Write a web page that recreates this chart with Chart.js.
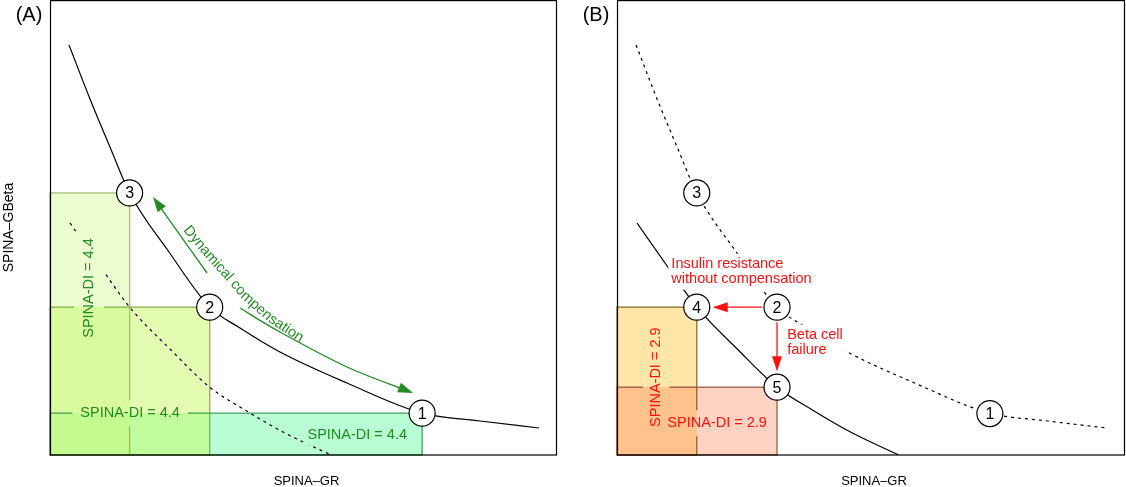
<!DOCTYPE html>
<html>
<head>
<meta charset="utf-8">
<script src="https://cdn.jsdelivr.net/npm/chart.js@4.4.0/dist/chart.umd.min.js"></script>
<style>
  html, body { margin: 0; padding: 0; background: #fff; }
  #wrap { position: relative; width: 1126px; height: 487px; }
  canvas { position: absolute; top: 0; }
  #chartA { left: 0; }
  #chartB { left: 567px; }
</style>
</head>
<body>
<div id="wrap">
  <canvas id="chartA" width="567" height="487"></canvas>
  <canvas id="chartB" width="559" height="487"></canvas>
</div>
<script>
const FONT = '"Liberation Sans", Arial, Helvetica, sans-serif';

// isoline through points 3-2-1 (solid in A, dashed in B)
const upperX = [0.375, 0.789, 1.183, 1.57, 2.347, 3.15, 3.748, 4.536, 5.858, 7.34, 8.481, 9.645];
const upperY = [9.011, 7.824, 6.769, 5.76, 4.462, 3.25, 2.791, 2.264, 1.582, 0.92, 0.747, 0.593];
// lower isoline through 4-5 (dashed in A, solid in B)
const lowerX = [0.394, 0.986, 1.57, 2.367, 3.15, 3.846, 4.596, 5.542];
const lowerY = [5.099, 4.154, 3.25, 2.330, 1.49, 0.989, 0.505, 0.0];

// numbered states
const ptAX = [1.57, 3.15, 7.34];
const ptAY = [5.76, 3.25, 0.92];
const ptALabels = ['3', '2', '1'];
const ptBX = [1.57, 3.15, 7.34, 1.57, 3.15];
const ptBY = [5.76, 3.25, 0.91, 3.25, 1.49];
const ptBLabels = ['3', '2', '1', '4', '5'];

// curved arrow "Dynamical compensation" (two pieces, tip at the end of each)
const compArrow1X = [3.097, 2.564, 2.032];
const compArrow1Y = [4.000, 4.835, 5.670];
const compArrow2X = [3.748, 4.536, 5.858, 7.160];
const compArrow2Y = [3.231, 2.703, 1.934, 1.363];
const compTextX = [2.643, 3.097, 3.491, 3.846, 4.339, 5.030];
const compTextY = [5.055, 4.440, 3.956, 3.495, 3.011, 2.505];

const zip = (xs, ys) => xs.map((x, i) => ({ x: x, y: ys[i] }));

function toPx(chart, x, y) {
  return [chart.scales.x.getPixelForValue(x), chart.scales.y.getPixelForValue(y)];
}

function spline(ctx, p) {
  ctx.moveTo(p[0][0], p[0][1]);
  for (let i = 0; i < p.length - 1; i++) {
    const p0 = p[i - 1] || p[i], p1 = p[i], p2 = p[i + 1], p3 = p[i + 2] || p2;
    ctx.bezierCurveTo(p1[0] + (p2[0] - p0[0]) / 6, p1[1] + (p2[1] - p0[1]) / 6,
                      p2[0] - (p3[0] - p1[0]) / 6, p2[1] - (p3[1] - p1[1]) / 6, p2[0], p2[1]);
  }
}

function arrow(ctx, p, color) {
  const n = p.length, tip = p[n - 1], prev = p[n - 2];
  const a = Math.atan2(tip[1] - prev[1], tip[0] - prev[0]);
  const L = 15, H = 5;
  const c = Math.cos(a), s = Math.sin(a);
  const line = p.slice(0, -1).concat([[tip[0] - L * 0.8 * c, tip[1] - L * 0.8 * s]]);
  ctx.strokeStyle = color;
  ctx.lineWidth = 1.3;
  ctx.setLineDash([]);
  ctx.beginPath(); spline(ctx, line); ctx.stroke();
  ctx.fillStyle = color;
  ctx.beginPath();
  ctx.moveTo(tip[0], tip[1]);
  ctx.lineTo(tip[0] - L * c + H * s, tip[1] - L * s - H * c);
  ctx.lineTo(tip[0] - L * c - H * s, tip[1] - L * s + H * c);
  ctx.closePath(); ctx.fill();
}

function labelBoxes(chart) {
  const ctx = chart.ctx;
  const o = chart.config.options.plugins.sketch;
  return o.labels.map(l => {
    ctx.font = l.size + 'px ' + FONT;
    const w = Math.max(...l.lines.map(t => ctx.measureText(t).width));
    const h = l.lines.length * l.lineH;
    const [cx, cy] = toPx(chart, l.x, l.y);
    const x0 = l.align === 'left' ? -l.padX : -w / 2 - l.padX;
    return { l: l, cx: cx, cy: cy, rot: l.rot * Math.PI / 180, x0: x0, y0: -h / 2 - l.padY, w: w + 2 * l.padX, h: h + 2 * l.padY, th: h };
  });
}

function clipOutLabels(chart) {
  const ctx = chart.ctx;
  ctx.beginPath();
  ctx.rect(0, 0, chart.width, chart.height);
  labelBoxes(chart).forEach(b => {
    ctx.save();
    ctx.translate(b.cx, b.cy);
    ctx.rotate(b.rot);
    ctx.rect(b.x0, b.y0, b.w, b.h);
    ctx.restore();
  });
  ctx.clip('evenodd');
}

function textOnPath(ctx, text, pts, color) {
  const seg = [];
  let total = 0;
  for (let i = 0; i < pts.length - 1; i++) {
    const d = Math.hypot(pts[i + 1][0] - pts[i][0], pts[i + 1][1] - pts[i][1]);
    seg.push(d); total += d;
  }
  const W = ctx.measureText(text).width;
  let s = (total - W) / 2;
  ctx.fillStyle = color;
  ctx.textAlign = 'center';
  ctx.textBaseline = 'middle';
  for (const ch of text) {
    const w = ctx.measureText(ch).width;
    let m = s + w / 2, i = 0;
    while (i < seg.length - 1 && m > seg[i]) { m -= seg[i]; i++; }
    const t = m / seg[i];
    const x = pts[i][0] + (pts[i + 1][0] - pts[i][0]) * t;
    const y = pts[i][1] + (pts[i + 1][1] - pts[i][1]) * t;
    const a = Math.atan2(pts[i + 1][1] - pts[i][1], pts[i + 1][0] - pts[i][0]);
    ctx.save(); ctx.translate(x, y); ctx.rotate(a); ctx.fillText(ch, 0, 0); ctx.restore();
    s += w;
  }
}

const sketch = {
  id: 'sketch',
  beforeDatasetsDraw(chart) {
    const o = chart.config.options.plugins.sketch;
    const ctx = chart.ctx;
    const [x0, y0] = toPx(chart, 0, 0);
    o.rects.forEach(r => {
      const [x, y] = toPx(chart, o.px[r.i], o.py[r.i]);
      ctx.fillStyle = r.fill;
      ctx.fillRect(x0, y, x - x0, y0 - y);
    });
    ctx.save();
    clipOutLabels(chart);
    o.rects.forEach(r => {
      const [x, y] = toPx(chart, o.px[r.i], o.py[r.i]);
      ctx.strokeStyle = r.edge;
      ctx.lineWidth = 1.4;
      ctx.strokeRect(x0, y, x - x0, y0 - y);
    });
    ctx.restore();
    if (o.compArrow) {
      ctx.save();
      arrow(ctx, compArrow1X.map((x, i) => toPx(chart, x, compArrow1Y[i])), '#228b22');
      arrow(ctx, compArrow2X.map((x, i) => toPx(chart, x, compArrow2Y[i])), '#228b22');
      ctx.font = '14.5px ' + FONT;
      textOnPath(ctx, 'Dynamical compensation', compTextX.map((x, i) => toPx(chart, x, compTextY[i])), '#228b22');
      ctx.restore();
    }
  },
  beforeDatasetDraw(chart, args) {
    if (args.meta.type === 'line') { chart.ctx.save(); clipOutLabels(chart); }
  },
  afterDatasetDraw(chart, args) {
    if (args.meta.type === 'line') chart.ctx.restore();
  },
  afterDatasetsDraw(chart) {
    const o = chart.config.options.plugins.sketch;
    const ctx = chart.ctx;
    const area = chart.chartArea;
    ctx.save();
    // red transition arrows
    (o.moves || []).forEach(mv => {
      const a = toPx(chart, o.px[mv[0]], o.py[mv[0]]);
      const b = toPx(chart, o.px[mv[1]], o.py[mv[1]]);
      const d = Math.hypot(b[0] - a[0], b[1] - a[1]);
      const ux = (b[0] - a[0]) / d, uy = (b[1] - a[1]) / d;
      arrow(ctx, [[a[0] + 15 * ux, a[1] + 15 * uy], [b[0] - 16 * ux, b[1] - 16 * uy]], '#ff1010');
    });
    // labels
    labelBoxes(chart).forEach(bx => {
      const l = bx.l;
      ctx.save();
      ctx.translate(bx.cx, bx.cy);
      ctx.rotate(bx.rot);
      ctx.font = l.size + 'px ' + FONT;
      ctx.fillStyle = l.color;
      ctx.textAlign = l.align;
      ctx.textBaseline = 'middle';
      l.lines.forEach((t, i) => ctx.fillText(t, 0, -bx.th / 2 + l.lineH * (i + 0.5)));
      ctx.restore();
    });
    // numbers inside the circles
    const meta = chart.getDatasetMeta(2);
    ctx.font = '16px ' + FONT;
    ctx.fillStyle = '#000';
    ctx.textAlign = 'center';
    ctx.textBaseline = 'middle';
    meta.data.forEach((el, i) => ctx.fillText(o.names[i], el.x, el.y + 1));
    // frame
    ctx.strokeStyle = '#000';
    ctx.lineWidth = 1.2;
    ctx.strokeRect(area.left + 0.5, area.top + 0.6, area.right - area.left - 1, area.bottom - area.top - 0.6);
    // titles
    ctx.font = '13px ' + FONT;
    ctx.fillText('SPINA\u2013GR', (area.left + area.right) / 2 + 3, 481);
    if (o.yTitle) {
      ctx.save();
      ctx.translate(9, (area.top + area.bottom) / 2);
      ctx.rotate(-Math.PI / 2);
      ctx.font = '14px ' + FONT;
      ctx.fillText('SPINA\u2013GBeta', 0, 0);
      ctx.restore();
    }
    ctx.font = '20px ' + FONT;
    ctx.fillText(o.tag, area.left - 21, 15);
    ctx.restore();
  }
};

function makeChart(id, cfg) {
  return new Chart(document.getElementById(id), {
    data: {
      datasets: [
        { type: 'line', order: 2, data: zip(upperX, upperY), borderColor: '#000', borderWidth: 1.2,
          borderDash: cfg.upperDash, pointRadius: 0, cubicInterpolationMode: 'monotone', fill: false },
        { type: 'line', order: 1, data: zip(lowerX, lowerY), borderColor: '#000', borderWidth: 1.2,
          borderDash: cfg.lowerDash, pointRadius: 0, cubicInterpolationMode: 'monotone', fill: false },
        { type: 'scatter', order: 0, data: zip(cfg.px, cfg.py), pointRadius: 13, pointBackgroundColor: '#fff',
          pointBorderColor: '#000', pointBorderWidth: 1.2 }
      ]
    },
    options: {
      responsive: false,
      animation: false,
      events: [],
      layout: { autoPadding: false, padding: { left: 50, right: cfg.padRight, top: 0, bottom: 32 } },
      scales: {
        x: { type: 'linear', min: 0, max: 10, display: false },
        y: { type: 'linear', min: 0, max: 10, display: false }
      },
      plugins: {
        legend: { display: false },
        tooltip: { enabled: false },
        sketch: cfg.sketch
      }
    },
    plugins: [sketch]
  });
}

const green = '#228b22';
const red = '#ff1010';

makeChart('chartA', {
  upperDash: [], lowerDash: [3, 4], px: ptAX, py: ptAY, padRight: 10,
  sketch: {
    tag: '(A)', yTitle: true, compArrow: true,
    px: ptAX, py: ptAY, names: ptALabels,
    rects: [
      { i: 2, fill: 'rgba(100,250,160,0.45)', edge: 'rgba(40,140,70,0.75)' },
      { i: 1, fill: 'rgba(200,250,100,0.5)', edge: 'rgba(110,150,40,0.7)' },
      { i: 0, fill: 'rgba(200,250,120,0.35)', edge: 'rgba(120,160,60,0.6)' }
    ],
    labels: [
      { lines: ['SPINA-DI = 4.4'], x: 0.77, y: 3.67, rot: -90, align: 'center', size: 14.5, lineH: 16, padX: 6, padY: 7, color: green },
      { lines: ['SPINA-DI = 4.4'], x: 1.58, y: 0.92, rot: 0, align: 'center', size: 14.5, lineH: 16, padX: 8, padY: 5, color: green },
      { lines: ['SPINA-DI = 4.4'], x: 6.06, y: 0.44, rot: 0, align: 'center', size: 14.5, lineH: 16, padX: 4, padY: 2, color: green }
    ]
  }
});

makeChart('chartB', {
  upperDash: [3, 4], lowerDash: [], px: ptBX, py: ptBY, padRight: 1,
  sketch: {
    tag: '(B)', yTitle: false, compArrow: false,
    px: ptBX, py: ptBY, names: ptBLabels,
    moves: [[1, 3], [1, 4]],
    rects: [
      { i: 3, fill: 'rgba(250,200,60,0.45)', edge: 'rgba(120,85,20,0.8)' },
      { i: 4, fill: 'rgba(255,140,100,0.38)', edge: 'rgba(140,70,50,0.8)' }
    ],
    labels: [
      { lines: ['SPINA-DI = 2.9'], x: 0.77, y: 1.71, rot: -90, align: 'center', size: 14.5, lineH: 16, padX: 6, padY: 5, color: red },
      { lines: ['SPINA-DI = 2.9'], x: 1.97, y: 0.70, rot: 0, align: 'center', size: 14.5, lineH: 16, padX: 6, padY: 5, color: red },
      { lines: ['Insulin resistance', 'without compensation'], x: 1.07, y: 4.03, rot: 0, align: 'left', size: 14.5, lineH: 15, padX: 3, padY: 3, color: red },
      { lines: ['Beta cell', 'failure'], x: 3.35, y: 2.47, rot: 0, align: 'left', size: 14.5, lineH: 15, padX: 3, padY: 3, color: red }
    ]
  }
});
</script>
</body>
</html>
